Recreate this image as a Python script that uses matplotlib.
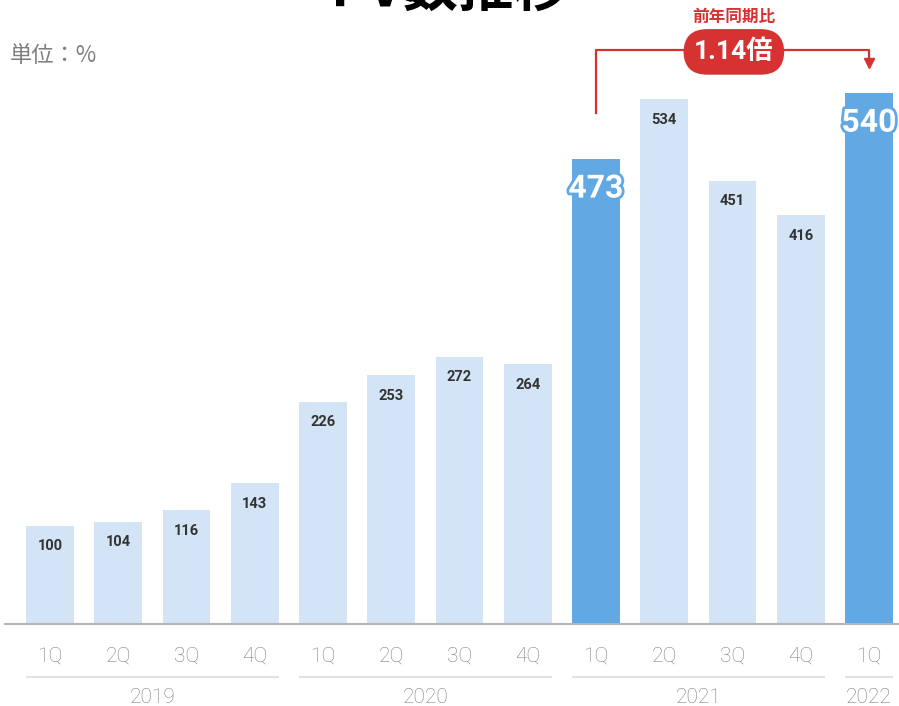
import matplotlib
matplotlib.use("Agg")
import matplotlib.pyplot as plt
import matplotlib.patheffects as pe
import numpy as np

# データ
quarters = ["1Q", "2Q", "3Q", "4Q", "1Q", "2Q", "3Q", "4Q", "1Q", "2Q", "3Q", "4Q", "1Q"]
years = ["2019", "2020", "2021", "2022"]
year_span = [(0, 3), (4, 7), (8, 11), (12, 12)]
pv_index = [100, 104, 116, 143, 226, 253, 272, 264, 473, 534, 451, 416, 540]
highlight = [8, 12]
yoy_label = "1.14倍"

# 色
light_blue = "#d3e4f6"
strong_blue = "#62a8e3"
red = "#d63232"
gray = "#7e7e7e"

plt.rcParams["font.family"] = ["Roboto", "Noto Sans CJK JP", "DejaVu Sans"]

fig = plt.figure(figsize=(8.99, 7.06), dpi=100)
# 1 data unit = 0.983 px vertically, bar pitch = 68.25 px
ax = fig.add_axes([5 / 899, 82 / 706, 894 / 899, 624 / 706])
ax.set_xlim(-45 / 68.25, 849 / 68.25)
ax.set_ylim(0, 624 / 0.983)

x = np.arange(len(pv_index))
colors = [strong_blue if i in highlight else light_blue for i in x]
ax.bar(x, pv_index, width=0.70, color=colors, zorder=2)

# 値ラベル
for i, v in zip(x, pv_index):
    if i in highlight:
        ax.text(i, v - 30, str(v), ha="center", va="center", color="white",
                fontsize=23, fontweight="bold",
                path_effects=[pe.withStroke(linewidth=4, foreground=strong_blue)],
                zorder=4)
    else:
        ax.text(i, v - 21, str(v), ha="center", va="center", color="#333333",
                fontsize=10.5, fontweight="bold", zorder=4)

# 軸
for s in ["top", "right", "left"]:
    ax.spines[s].set_visible(False)
ax.spines["bottom"].set_color("#b5b5b5")
ax.spines["bottom"].set_linewidth(1.5)
ax.set_yticks([])
ax.set_xticks(x)
ax.set_xticklabels(quarters, fontsize=15, color=gray, fontweight="light")
ax.tick_params(axis="x", length=0, pad=16)

# 年ラベル
for yr, (a, b) in zip(years, year_span):
    ax.plot([a - 0.35, b + 0.35], [-54, -54], color="#e3e3e3", lw=1.5,
            clip_on=False, solid_capstyle="butt")
    ax.text((a + b) / 2, -75, yr, ha="center", va="center", fontsize=15,
            color=gray, fontweight="light")

# 前年同期比の注記
s, e = highlight
y_top = 584
ax.plot([s, s, e, e], [pv_index[s] + 47, y_top, y_top, pv_index[e] + 34],
        color=red, lw=1.6, clip_on=False, zorder=3)
ax.plot([e], [pv_index[e] + 31], marker="v", color=red, markersize=7,
        clip_on=False, zorder=3)
mid = (s + e) / 2 + 0.02
ax.text(mid, y_top - 2, yoy_label, ha="center", va="center", color="white",
        fontsize=19, fontweight="bold", clip_on=False, zorder=5,
        bbox=dict(boxstyle="round,pad=0.4,rounding_size=0.9", fc=red, ec="none"))
ax.text(mid, 618, "前年同期比", ha="center", va="center", color=red,
        fontsize=12, fontweight="bold", clip_on=False,
        family=["Noto Sans CJK JP", "DejaVu Sans"])

# 単位・タイトル
fig.text(10 / 899, 1 - 55 / 706, "単位：%", ha="left", va="center", fontsize=16,
         color=gray, family=["Noto Sans CJK JP", "DejaVu Sans"])
fig.text(0.5, 1 - 18 / 706, "PV数推移", ha="center", va="bottom", fontsize=40,
         fontweight="bold", color="black",
         family=["Noto Sans CJK JP", "DejaVu Sans"])

fig.savefig("out.png", dpi=100)
